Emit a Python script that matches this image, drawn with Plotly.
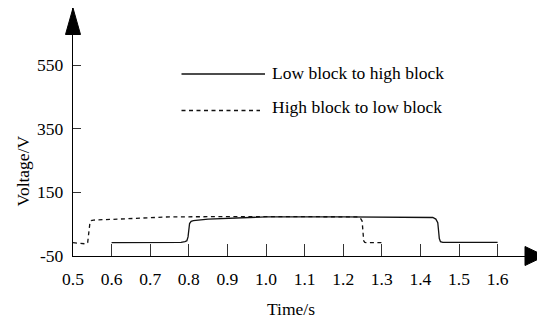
import plotly.graph_objects as go

# ---- data ----
low_to_high_t = [0.6, 0.70, 0.78, 0.79, 0.795, 0.798, 0.800, 0.802, 0.806, 0.812, 0.85, 0.95, 1.0,
                 1.2, 1.42, 1.432, 1.440, 1.445, 1.447, 1.449, 1.452, 1.458, 1.6]
low_to_high_v = [-8, -8, -7, -5, -2, 10, 35, 52, 59, 61, 66, 72, 73,
                 73, 73, 71, 66, 55, 30, 5, -5, -7, -7]

high_to_low_t = [0.5, 0.515, 0.525, 0.533, 0.538, 0.540, 0.542, 0.544, 0.547, 0.553, 0.6, 0.7, 0.75,
                 1.0, 1.235, 1.244, 1.249, 1.251, 1.253, 1.256, 1.262, 1.3]
high_to_low_v = [-8, -9, -12, -12, -8, 10, 40, 56, 61, 63, 65, 71, 73,
                 74, 73, 70, 60, 30, -2, -7, -8, -8]

series_names = ["Low block to high block", "High block to low block"]
x_ticks = [0.5, 0.6, 0.7, 0.8, 0.9, 1.0, 1.1, 1.2, 1.3, 1.4, 1.5, 1.6]
x_tick_text = ["0.5", "0.6", "0.7", "0.8", "0.9", "1.0", "1.1", "1.2", "1.3", "1.4", "1.5", "1.6"]
y_ticks = [-50, 150, 350, 550]
y_tick_text = ["-50", "150", "350", "550"]

OFF = 8  # page body margin
W, H = 545 - OFF, 322 - OFF
# plot area in page pixels: x 73..545, y 8..256
L = 73 - OFF
T = 8 - OFF
PW = 545 - 73
PH = 256 - 8
R = W - L - PW
B = H - T - PH

FONT = "Liberation Serif"
FS = 17.5

def px(x):  # page pixel -> paper
    return (x - OFF - L) / PW

def py(y):
    return (T + PH - (y - OFF)) / PH

fig = go.Figure()
fig.add_trace(go.Scatter(x=low_to_high_t, y=low_to_high_v, mode="lines", name=series_names[0],
                         line=dict(color="#111111", width=1.3), showlegend=False))
fig.add_trace(go.Scatter(x=high_to_low_t, y=high_to_low_v, mode="lines", name=series_names[1],
                         line=dict(color="#111111", width=1.3, dash="4px,3.5px"), showlegend=False))

x_end = 0.5 + PW / 386.0
y_end = -50 + PH / 0.3183

fig.update_xaxes(range=[0.5, x_end], tickvals=x_ticks, ticktext=x_tick_text,
                 ticks="inside", ticklen=12, tickcolor="#333333", tickwidth=1,
                 ticklabelstandoff=7,
                 showline=True, linecolor="black", linewidth=1.3, showgrid=False, zeroline=False,
                 tickfont=dict(family=FONT, size=FS, color="black"))
fig.update_yaxes(range=[-50, y_end], tickvals=y_ticks, ticktext=y_tick_text,
                 ticks="inside", ticklen=8, tickcolor="#333333", tickwidth=1,
                 ticklabelstandoff=5,
                 showline=True, linecolor="black", linewidth=1.3, showgrid=False, zeroline=False,
                 tickfont=dict(family=FONT, size=FS, color="black"))

shapes = []
# axis arrowheads
shapes.append(dict(type="path", xref="paper", yref="paper",
                   path=f"M {px(545)} {py(256)} L {px(525)} {py(246.5)} L {px(525)} {py(265.5)} Z",
                   fillcolor="black", line=dict(color="black", width=1)))
shapes.append(dict(type="path", xref="paper", yref="paper",
                   path=f"M {px(73)} {py(8)} L {px(65.5)} {py(34.5)} L {px(80.5)} {py(34.5)} Z",
                   fillcolor="black", line=dict(color="black", width=1)))
# legend samples
shapes.append(dict(type="line", xref="paper", yref="paper", x0=px(181.5), x1=px(265), y0=py(74), y1=py(74),
                   line=dict(color="#111111", width=1.3)))
shapes.append(dict(type="line", xref="paper", yref="paper", x0=px(181.5), x1=px(260), y0=py(110.5), y1=py(110.5),
                   line=dict(color="#111111", width=1.3, dash="4px,3.5px")))

annotations = []
annotations.append(dict(text=series_names[0], xref="paper", yref="paper", x=px(270), y=py(73),
                        xanchor="left", yanchor="middle", showarrow=False,
                        font=dict(family=FONT, size=FS, color="black")))
annotations.append(dict(text=series_names[1], xref="paper", yref="paper", x=px(270), y=py(107),
                        xanchor="left", yanchor="middle", showarrow=False,
                        font=dict(family=FONT, size=FS, color="black")))
annotations.append(dict(text="Time/s", xref="paper", yref="paper", x=px(290.5), y=py(309),
                        xanchor="center", yanchor="middle", showarrow=False,
                        font=dict(family=FONT, size=FS, color="black")))
annotations.append(dict(text="Voltage/V", xref="paper", yref="paper", x=px(22.5), y=py(171),
                        xanchor="center", yanchor="middle", showarrow=False, textangle=-90,
                        font=dict(family=FONT, size=FS, color="black")))

fig.update_layout(width=W, height=H, margin=dict(l=L, r=R, t=T, b=B, pad=0),
                  paper_bgcolor="white", plot_bgcolor="white",
                  shapes=shapes, annotations=annotations, showlegend=False)

fig.write_html("out.html")
